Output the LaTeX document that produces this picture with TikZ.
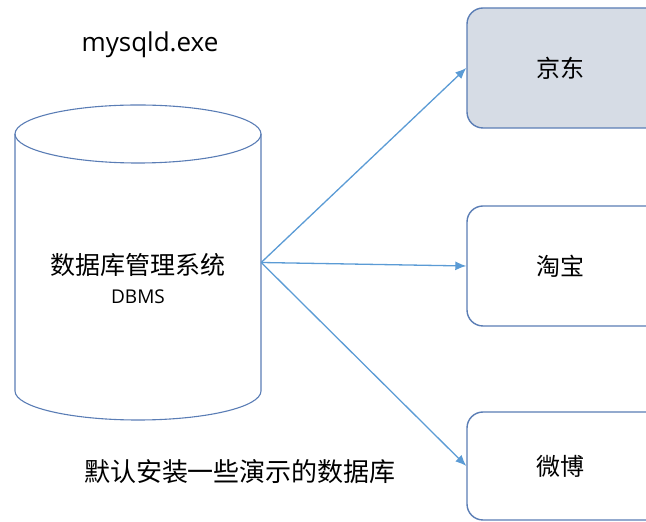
\documentclass[tikz,border=0pt]{standalone}
\usepackage{fontspec}
\setmainfont{Open Sans}
\newfontfamily\cjk{Noto Sans CJK SC}
\usetikzlibrary{arrows.meta}
\definecolor{boxline}{HTML}{5A7DB5}
\definecolor{boxfill}{HTML}{D6DCE5}
\definecolor{arrowblue}{HTML}{5B9BD5}
\begin{document}
\begin{tikzpicture}[x=1pt,y=1pt,
  site node/.style={draw=boxline,line width=1.4pt,rounded corners=16pt,
    minimum width=210pt,minimum height=120pt,font=\cjk\fontsize{24}{28}\selectfont},
  link/.style={draw=arrowblue,line width=1.3pt,-{Latex[length=11pt,width=9pt]}},
  cyl/.style={draw=boxline,line width=1.1pt}]
  \useasboundingbox (0,0) rectangle (646,522);

  % the database cylinder
  \node[minimum width=246pt,minimum height=257pt,inner sep=0pt] (dbms) at (138,259.5) {};
  \draw[cyl] (138,388) ellipse [x radius=123,y radius=29];
  \draw[cyl] (15,388) -- (15,131) arc[start angle=180,end angle=360,x radius=123,y radius=29] -- (261,388);
  \node[font=\cjk\fontsize{25}{30}\selectfont] (dbmsname) at (138,257) {数据库管理系统};
  \node[font=\fontsize{19}{24}\selectfont] (dbmsabbr) at (138,225) {DBMS};
  \node[font=\fontsize{26}{30}\selectfont] (exe) at (150,477) {mysqld.exe};
  \node[font=\cjk\fontsize{26}{30}\selectfont] (demo) at (240,50) {默认安装一些演示的数据库};

  % the client sites
  \node[site node,fill=boxfill] (jd) at (572,454) {京东\hspace*{24pt}};
  \node[site node,fill=white] (tb) at (572,256) {淘宝\hspace*{24pt}};
  \node[site node,fill=white,minimum height=108pt] (wb) at (572,56) {微博\hspace*{24pt}};

  \path
    (dbms.east) edge[link] (jd.west)
    (dbms.east) edge[link] (tb.west)
    (dbms.east) edge[link] (wb.west);
\end{tikzpicture}
\end{document}
